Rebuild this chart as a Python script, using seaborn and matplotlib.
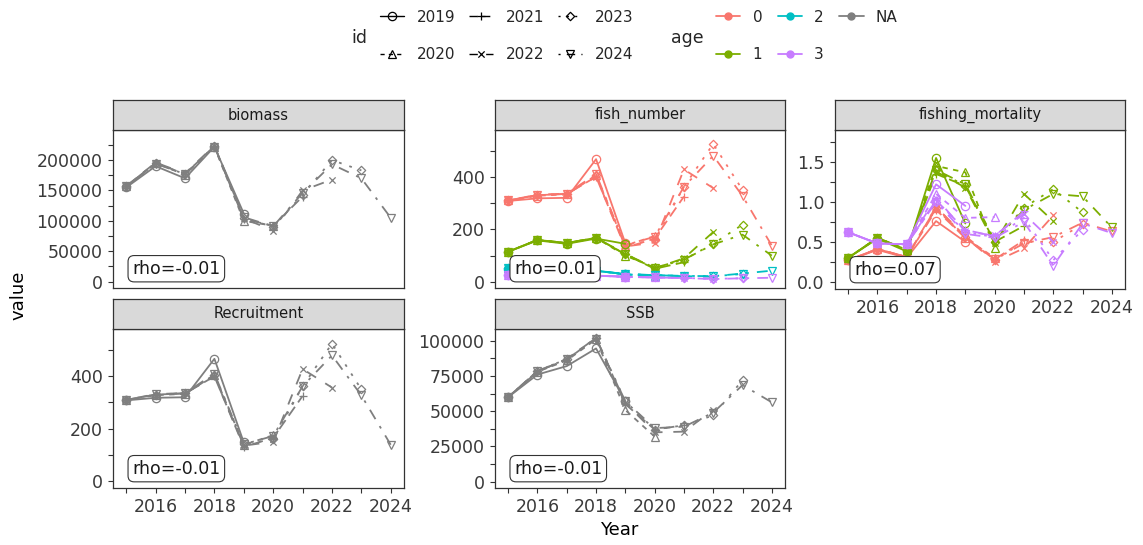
import numpy as np
import pandas as pd
import matplotlib
matplotlib.use("Agg")
import matplotlib.pyplot as plt
from matplotlib.path import Path
from matplotlib.lines import Line2D
from matplotlib.ticker import MultipleLocator, FormatStrFormatter, FuncFormatter
import seaborn as sns

# ---------------- data ----------------
years = list(range(2015, 2025))
ids = ["2019", "2020", "2021", "2022", "2023", "2024"]
ages = ["0", "1", "2", "3"]
stats = ["biomass", "fish_number", "fishing_mortality", "Recruitment", "SSB"]
rho_text = {"biomass": "rho=-0.01", "fish_number": "rho=0.01",
            "fishing_mortality": "rho=0.07", "Recruitment": "rho=-0.01",
            "SSB": "rho=-0.01"}

biomass = {
    "2019": [155000, 190000, 170000, 222000, 112000],
    "2020": [157000, 195000, 176000, 222000, 100000, 92000],
    "2021": [157000, 195000, 177000, 223000, 103000, 92000, 140000],
    "2022": [157000, 196000, 178000, 224000, 104000, 84000, 150000, 168000],
    "2023": [157000, 195000, 177000, 223000, 105000, 90000, 143000, 200000, 183000],
    "2024": [157000, 194000, 177000, 222000, 106000, 91000, 146000, 193000, 170000, 105000],
}
number_age0 = {
    "2019": [308, 318, 320, 467, 147],
    "2020": [310, 328, 333, 405, 138, 175],
    "2021": [310, 330, 335, 400, 130, 165, 325],
    "2022": [310, 330, 335, 400, 135, 150, 428, 357],
    "2023": [310, 330, 336, 405, 140, 160, 362, 525, 350],
    "2024": [310, 332, 336, 410, 140, 172, 362, 480, 327, 138],
}
number_age1 = {
    "2019": [115, 158, 145, 165, 145],
    "2020": [115, 160, 147, 168, 100, 55],
    "2021": [115, 160, 148, 168, 105, 50, 75],
    "2022": [115, 160, 148, 168, 105, 52, 90, 190],
    "2023": [115, 160, 148, 168, 106, 53, 85, 145, 218],
    "2024": [115, 160, 148, 168, 106, 54, 85, 143, 180, 100],
}
number_age2 = {
    "2019": [50, 48, 46, 42, 30],
    "2020": [52, 50, 47, 43, 28, 24],
    "2021": [52, 50, 47, 43, 29, 25, 22],
    "2022": [52, 50, 47, 43, 29, 26, 22, 20],
    "2023": [52, 50, 47, 43, 30, 26, 23, 22, 30],
    "2024": [52, 50, 47, 43, 30, 26, 23, 22, 32, 43],
}
number_age3 = {
    "2019": [26, 25, 24, 24, 20],
    "2020": [27, 26, 25, 24, 19, 17],
    "2021": [27, 26, 25, 24, 20, 17, 15],
    "2022": [27, 26, 25, 24, 20, 17, 15, 13],
    "2023": [27, 26, 25, 24, 20, 17, 15, 12, 14],
    "2024": [27, 26, 25, 24, 20, 17, 15, 11, 14, 16],
}
mortality_age0 = {
    "2019": [0.27, 0.40, 0.30, 0.76, 0.50],
    "2020": [0.27, 0.41, 0.31, 0.92, 0.55, 0.30],
    "2021": [0.27, 0.41, 0.31, 0.90, 0.55, 0.28, 0.52],
    "2022": [0.27, 0.41, 0.31, 0.94, 0.56, 0.25, 0.42, 0.83],
    "2023": [0.27, 0.41, 0.31, 0.93, 0.56, 0.27, 0.50, 0.50, 0.72],
    "2024": [0.27, 0.41, 0.31, 0.93, 0.57, 0.28, 0.48, 0.56, 0.74, 0.63],
}
mortality_age1 = {
    "2019": [0.30, 0.54, 0.38, 1.55, 0.73],
    "2020": [0.30, 0.55, 0.40, 1.45, 1.37, 0.42],
    "2021": [0.30, 0.55, 0.40, 1.35, 1.20, 0.50, 0.70],
    "2022": [0.30, 0.55, 0.40, 1.38, 1.18, 0.48, 1.10, 0.76],
    "2023": [0.30, 0.55, 0.40, 1.40, 1.20, 0.50, 0.93, 1.16, 0.87],
    "2024": [0.30, 0.55, 0.40, 1.40, 1.22, 0.52, 0.90, 1.10, 1.07, 0.68],
}
mortality_age3 = {
    "2019": [0.62, 0.48, 0.47, 1.22, 0.95],
    "2020": [0.62, 0.48, 0.47, 1.10, 0.80, 0.81],
    "2021": [0.62, 0.48, 0.47, 1.02, 0.65, 0.57, 0.88],
    "2022": [0.62, 0.48, 0.47, 1.05, 0.63, 0.58, 0.85, 0.50],
    "2023": [0.62, 0.48, 0.47, 1.00, 0.62, 0.56, 0.80, 0.27, 0.65],
    "2024": [0.62, 0.48, 0.47, 1.00, 0.60, 0.55, 0.75, 0.20, 0.73, 0.61],
}
recruitment = number_age0
ssb = {
    "2019": [60000, 76000, 82000, 94500, 57000],
    "2020": [60000, 78000, 86000, 101000, 50800, 32000],
    "2021": [60000, 78500, 86500, 102000, 55000, 37000, 40000],
    "2022": [60000, 78000, 87000, 102000, 56000, 35000, 35500, 51000],
    "2023": [60000, 78500, 87000, 102000, 57000, 37000, 40000, 47000, 72000],
    "2024": [60000, 78500, 87000, 101000, 57000, 38000, 39000, 49000, 68500, 56300],
}

rows = []
def add(stat, age, table):
    for rid, vals in table.items():
        for yr, v in zip(years, vals):
            rows.append({"stat": stat, "age": age, "id": rid, "Year": yr, "value": v})

add("biomass", None, biomass)
add("fish_number", "0", number_age0)
add("fish_number", "1", number_age1)
add("fish_number", "2", number_age2)
add("fish_number", "3", number_age3)
add("fishing_mortality", "0", mortality_age0)
add("fishing_mortality", "1", mortality_age1)
add("fishing_mortality", "3", mortality_age3)
add("Recruitment", None, recruitment)
add("SSB", None, ssb)
df = pd.DataFrame(rows)

# ---------------- styles ----------------
sns.set_theme(style="white")
plt.rcParams["font.family"] = ["DejaVu Sans"]

age_pal = {"0": "#F8766D", "1": "#7CAE00", "2": "#00BFC4", "3": "#C77CFF"}
NA_COLOR = "#7F7F7F"

plus_path = Path([(-1, 0), (1, 0), (0, -1), (0, 1)],
                 [Path.MOVETO, Path.LINETO, Path.MOVETO, Path.LINETO])
cross_path = Path([(-0.75, -0.75), (0.75, 0.75), (-0.75, 0.75), (0.75, -0.75), (1, 1)],
                  [Path.MOVETO, Path.LINETO, Path.MOVETO, Path.LINETO, Path.MOVETO])
diamond_path = Path([(0, 1), (1, 0), (0, -1), (-1, 0), (0, 1)],
                    [Path.MOVETO, Path.LINETO, Path.LINETO, Path.LINETO, Path.CLOSEPOLY])
marker_map = {"2019": "o", "2020": "^", "2021": plus_path,
              "2022": cross_path, "2023": diamond_path, "2024": "v"}
s = 1.5
dash_map = {"2019": "", "2020": (2 * s, 2 * s), "2021": (4 * s, 2 * s),
            "2022": (4 * s, 4 * s), "2023": (1 * s, 3 * s),
            "2024": (1 * s, 3 * s, 4 * s, 3 * s)}

LW = 1.3
MS = 6
MEW = 0.9

W, H = 1143, 545
fig = plt.figure(figsize=(W / 100, H / 100), dpi=100)

# panel rectangles in pixels: (left, top, right, bottom)
panels = {
    "biomass": (113, 130, 404, 288),
    "fish_number": (495, 130, 785, 288),
    "fishing_mortality": (835, 130, 1125, 289),
    "Recruitment": (113, 329, 404, 488),
    "SSB": (495, 329, 785, 488),
}
strip_h = 30
ylims = {
    "biomass": (-10400, 249500),
    "fish_number": (-23, 578),
    "fishing_mortality": (-0.09, 1.90),
    "Recruitment": (-27, 581),
    "SSB": (-4470, 108300),
}
yticks = {
    "biomass": (50000, 25000),
    "fish_number": (200, 100),
    "fishing_mortality": (0.5, 0.25),
    "Recruitment": (200, 100),
    "SSB": (25000, 12500),
}
show_x = {"biomass": False, "fish_number": False, "fishing_mortality": True,
          "Recruitment": True, "SSB": True}

BORDER = "#333333"
TICKTXT = "#3A3A3A"

for stat in stats:
    l, t, r, b = panels[stat]
    ax = fig.add_axes([l / W, 1 - b / H, (r - l) / W, (b - t) / H])
    d = df[df["stat"] == stat]
    common = dict(x="Year", y="value", style="id", style_order=ids,
                  markers=marker_map, dashes=dash_map, ax=ax, legend=False,
                  estimator=None, errorbar=None, lw=LW, ms=MS,
                  markeredgewidth=MEW, markeredgecolor="k")
    if d["age"].isna().all():
        sns.lineplot(data=d, color=NA_COLOR, **common)
    else:
        present = [a for a in ages if a in set(d["age"])]
        sns.lineplot(data=d, hue="age", hue_order=present, palette=age_pal, **common)
    for line in ax.lines:
        line.set_markeredgecolor(line.get_color())
        line.set_markerfacecolor("none")

    ax.set_xlim(2014.55, 2024.45)
    ax.set_ylim(*ylims[stat])
    maj, mnr = yticks[stat]
    ax.yaxis.set_major_locator(MultipleLocator(maj))
    ax.yaxis.set_minor_locator(MultipleLocator(mnr))
    if stat == "fishing_mortality":
        ax.yaxis.set_major_formatter(FormatStrFormatter("%.1f"))
    else:
        ax.yaxis.set_major_formatter(FuncFormatter(lambda v, p: f"{int(round(v))}"))
    ax.xaxis.set_major_locator(MultipleLocator(2))
    ax.xaxis.set_minor_locator(MultipleLocator(1))
    ax.set_xlabel("")
    ax.set_ylabel("")
    ax.set_facecolor("white")
    for sp in ax.spines.values():
        sp.set_color(BORDER)
        sp.set_linewidth(0.9)
        sp.set_visible(True)
    ax.tick_params(axis="both", which="both", direction="out", length=3.5,
                   width=0.8, color=BORDER, labelsize=12.5, labelcolor=TICKTXT, pad=4)
    ax.tick_params(axis="y", which="both", left=True)
    if show_x[stat]:
        ax.tick_params(axis="x", which="both", bottom=True, labelbottom=True)
    else:
        ax.tick_params(axis="x", which="both", bottom=False, labelbottom=False)
    ax.grid(False)

    ax.text(0.066, 0.065, rho_text[stat], transform=ax.transAxes, ha="left", va="bottom",
            fontsize=12.5, color="#1A1A1A", zorder=10,
            bbox=dict(boxstyle="round,pad=0.24,rounding_size=0.35", fc="white",
                      ec="#333333", lw=0.8))

    sax = fig.add_axes([l / W, 1 - t / H, (r - l) / W, strip_h / H])
    sax.set_facecolor("#D9D9D9")
    sax.set_xticks([])
    sax.set_yticks([])
    for sp in sax.spines.values():
        sp.set_color(BORDER)
        sp.set_linewidth(0.9)
        sp.set_visible(True)
    sax.text(0.5, 0.5, stat, ha="center", va="center", fontsize=10.5,
             color="#1A1A1A", transform=sax.transAxes)

fig.text(18 / W, 1 - 295 / H, "value", rotation=90, ha="center", va="center",
         fontsize=13, color="black")
fig.text(619 / W, 1 - 530 / H, "Year", ha="center", va="center",
         fontsize=13, color="black")

# ---------------- legends ----------------
id_handles = []
for i in ids:
    h = Line2D([], [], color="black", lw=1.0, marker=marker_map[i], ms=MS,
               mfc="none", mec="black", mew=MEW)
    if dash_map[i]:
        h.set_dashes(dash_map[i])
    id_handles.append(h)
fig.legend(id_handles, ids, loc="center left", bbox_to_anchor=(380 / W, 1 - 36 / H),
           ncol=3, frameon=False, fontsize=11, handlelength=1.6, handletextpad=0.8,
           columnspacing=0.9, labelspacing=1.5, borderpad=0, borderaxespad=0)
fig.text(351 / W, 1 - 38 / H, "id", ha="left", va="center", fontsize=12.5)

age_labels = ["0", "1", "2", "3", "NA"]
age_colors = [age_pal["0"], age_pal["1"], age_pal["2"], age_pal["3"], NA_COLOR]
age_handles = [Line2D([], [], color=c, lw=1.3, marker="o", ms=5, mec=c, mfc=c)
               for c in age_colors]
fig.legend(age_handles, age_labels, loc="center left", bbox_to_anchor=(716 / W, 1 - 36 / H),
           ncol=3, frameon=False, fontsize=11, handlelength=1.6, handletextpad=0.8,
           columnspacing=1.0, labelspacing=1.5, borderpad=0, borderaxespad=0)
fig.text(671 / W, 1 - 38 / H, "age", ha="left", va="center", fontsize=12.5)

fig.savefig("out.png", dpi=100)
